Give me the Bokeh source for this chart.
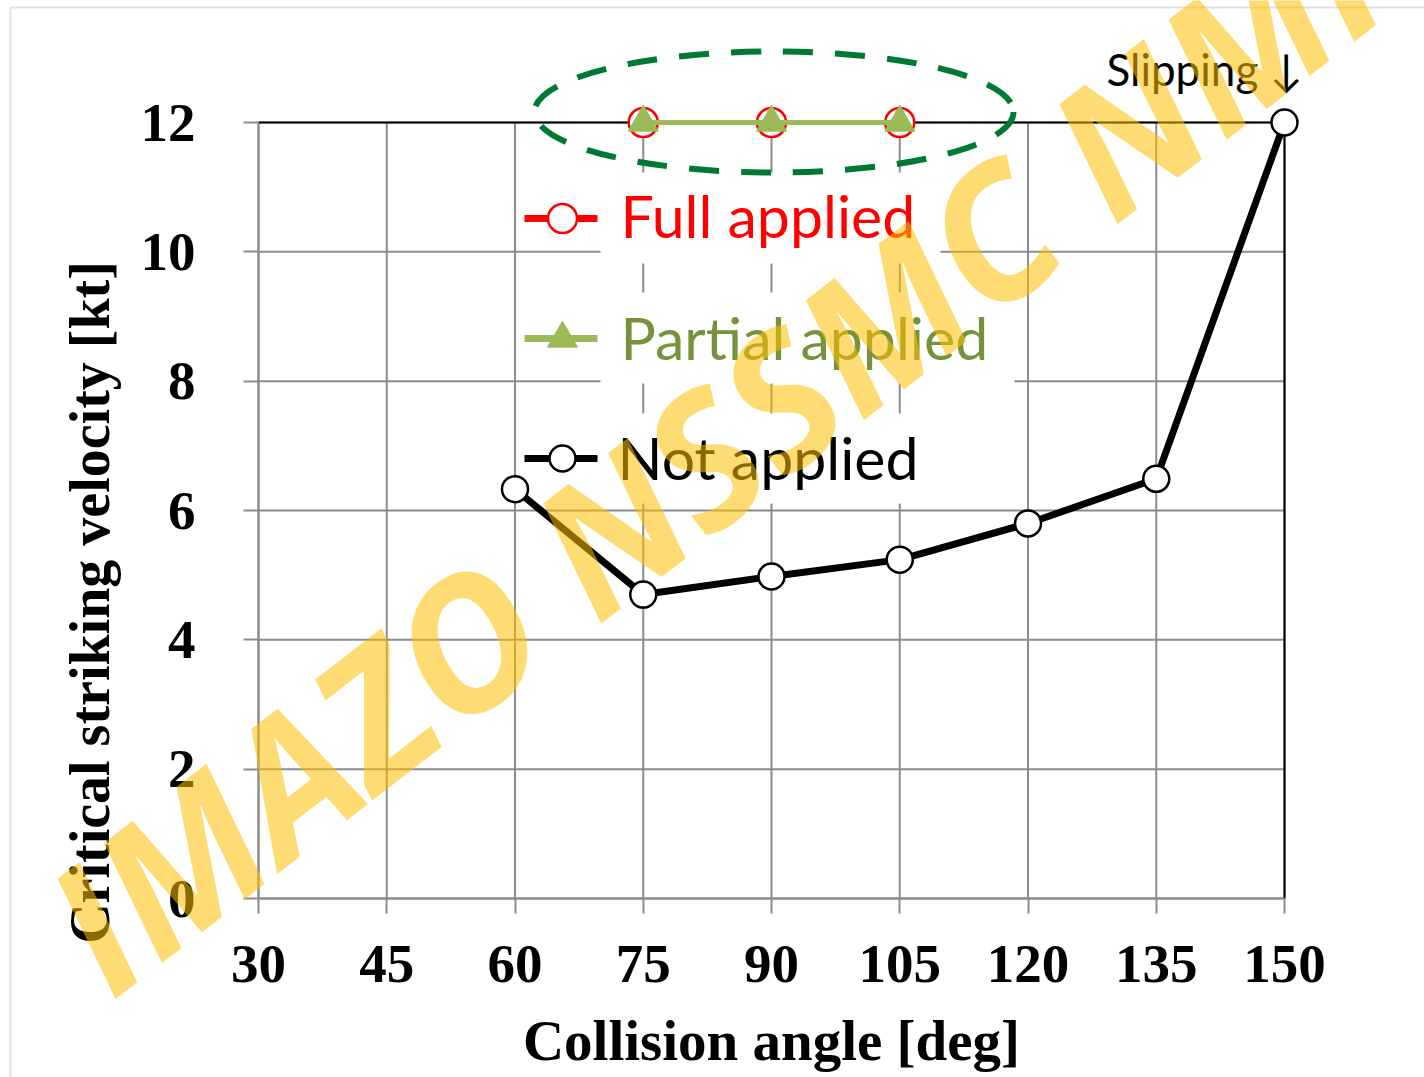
import math
from bokeh.plotting import figure
from bokeh.models import Label, BoxAnnotation, Range1d, FixedTicker, LinearAxis
from bokeh.core.properties import value
from bokeh.embed import file_html
from bokeh.resources import INLINE

# ---------------- data ----------------
angles = [60, 75, 90, 105, 120, 135, 150]
not_applied = [6.33, 4.70, 4.98, 5.24, 5.80, 6.49, 12.0]
full_angles = [75, 90, 105]
full_applied = [12, 12, 12]
partial_angles = [75, 90, 105]
partial_applied = [12, 12, 12]
x_ticks = [30, 45, 60, 75, 90, 105, 120, 135, 150]
y_ticks = [0, 2, 4, 6, 8, 10, 12]
series_names = ["Full applied", "Partial applied", "Not applied"]
x_label = "Collision angle [deg]"
y_label = "Critical striking velocity [kt]"
note_text = "Slipping \u2193"
watermark = "IMAZO NSSMC NMI"

# ---------------- layout (page pixels) ----------------
W, H = 1424, 1077
AX_LEFT, AX_RIGHT, AX_TOP, AX_BOTTOM = 258, 1284, 122, 898
PX_X = (AX_RIGHT - AX_LEFT) / (x_ticks[-1] - x_ticks[0])
PX_Y = (AX_BOTTOM - AX_TOP) / (y_ticks[-1] - y_ticks[0])


def dx(px):
    return x_ticks[0] + (px - AX_LEFT) / PX_X


def dy(py):
    return y_ticks[0] + (AX_BOTTOM - py) / PX_Y


GRID = "#8c8c8c"
RED = "#FF0000"
GREEN = "#9BBB59"
GREEN_TXT = "#76923C"
OVAL = "#007A33"
SERIF = "Liberation Serif"
SANS = "Lato"

p = figure(width=W, height=H, x_range=Range1d(dx(0), dx(W)),
           y_range=Range1d(dy(H), dy(0)), output_backend="svg",
           toolbar_location=None, x_axis_location=None, y_axis_location=None,
           min_border=0)
p.title.visible = False
p.grid.visible = False
p.outline_line_color = None
p.background_fill_color = "white"
p.border_fill_color = "white"

xaxis = LinearAxis(fixed_location=y_ticks[0])
yaxis = LinearAxis(fixed_location=x_ticks[0])
p.add_layout(xaxis, "below")
p.add_layout(yaxis, "left")

for ax, ticks, standoff in ((xaxis, x_ticks, 32), (yaxis, y_ticks, 48)):
    ax.ticker = FixedTicker(ticks=ticks)
    ax.bounds = (ticks[0], ticks[-1])
    ax.axis_line_color = GRID
    ax.axis_line_width = 2
    ax.major_tick_line_color = GRID
    ax.major_tick_line_width = 2
    ax.major_tick_out = 15
    ax.major_tick_in = 0
    ax.minor_tick_line_color = None
    ax.major_label_text_font = SERIF
    ax.major_label_text_font_style = "bold"
    ax.major_label_text_font_size = "55px"
    ax.major_label_text_color = "black"
    ax.major_label_standoff = standoff

xaxis.axis_label = x_label
xaxis.axis_label_text_font = SERIF
xaxis.axis_label_text_font_style = "bold"
xaxis.axis_label_text_font_size = "57px"
xaxis.axis_label_text_color = "black"
xaxis.axis_label_standoff = 24

# grid lines (limited to the axis extent)
n_x, n_y = len(x_ticks), len(y_ticks)
p.segment(x0=x_ticks, y0=[y_ticks[0]] * n_x, x1=x_ticks, y1=[y_ticks[-1]] * n_x,
          line_color=GRID, line_width=2)
p.segment(x0=[x_ticks[0]] * n_y, y0=y_ticks, x1=[x_ticks[-1]] * n_y, y1=y_ticks,
          line_color=GRID, line_width=2)
# black top / right frame lines
p.line([x_ticks[0], x_ticks[-1]], [y_ticks[-1], y_ticks[-1]], line_color="black", line_width=2)
p.line([x_ticks[-1], x_ticks[-1]], [y_ticks[0], y_ticks[-1]], line_color="black", line_width=2)

# white boxes behind legend texts
p.quad(left=[dx(600), dx(600), dx(600)], right=[dx(940), dx(1014), dx(940)],
       top=[dy(172), dy(292), dy(413)], bottom=[dy(263), dy(383), dy(503)],
       fill_color="white", line_color=None)

# dashed oval around the applied series
p.ellipse(x=[dx(773.5)], y=[dy(111.5)], width=[479 / PX_X], height=[121 / PX_Y],
          fill_color=None, line_color=OVAL, line_width=6, line_dash="30 22")

# series
p.line(angles, not_applied, line_color="black", line_width=7)
p.scatter(angles, not_applied, marker="circle", size=26, fill_color="white",
          line_color="black", line_width=2.5)
p.line(full_angles, full_applied, line_color=RED, line_width=5)
p.scatter(full_angles, full_applied, marker="circle", size=29, fill_color="white",
          line_color=RED, line_width=2.5)
p.line(partial_angles, partial_applied, line_color=GREEN, line_width=5)
p.scatter(partial_angles, partial_applied, marker="triangle", size=30,
          fill_color=GREEN, line_color=GREEN, line_width=1)

# manual legend
rows = [dy(218), dy(338), dy(458)]
cols = [RED, GREEN, "black"]
for yy, c in zip(rows, cols):
    p.line([dx(524), dx(597)], [yy, yy], line_color=c, line_width=7)
p.scatter([dx(562)], [rows[0]], marker="circle", size=29, fill_color="white",
          line_color=RED, line_width=2.5)
p.scatter([dx(562)], [rows[1]], marker="triangle", size=30, fill_color=GREEN,
          line_color=GREEN)
p.scatter([dx(562)], [rows[2]], marker="circle", size=26, fill_color="white",
          line_color="black", line_width=2.5)
p.text(x=[dx(620), dx(620), dx(617)], y=[dy(215), dy(337), dy(457)],
       text=series_names, text_color=[RED, GREEN_TXT, "black"],
       text_font=value(SANS), text_font_size="59px", text_baseline="middle",
       text_align="left")

p.text(x=[dx(1106)], y=[dy(68)], text=[note_text], text_color="black",
       text_font=value(SANS), text_font_size="44px", text_baseline="middle",
       text_align="left")

# y-axis label
p.add_layout(Label(x=dx(89), y=dy(602), text=y_label, angle=math.pi / 2,
                   text_align="center", text_baseline="middle",
                   text_font=SERIF, text_font_style="bold",
                   text_font_size="56px", text_color="black"))

# outer grey border
p.add_layout(BoxAnnotation(left=dx(10), right=dx(W + 200), top=dy(7), bottom=dy(H + 200),
                           fill_color=None, fill_alpha=0, line_color="#9a9a9a",
                           line_width=2))

# watermark
p.add_layout(Label(x=dx(68), y=dy(945), text=watermark, angle=math.radians(37.7),
                   text_align="left", text_baseline="middle",
                   text_font="Open Sans", text_font_style="bold italic",
                   text_font_size="183px", text_color="#FFC000", text_alpha=0.55))

open("out.html", "w").write(file_html(p, INLINE))
